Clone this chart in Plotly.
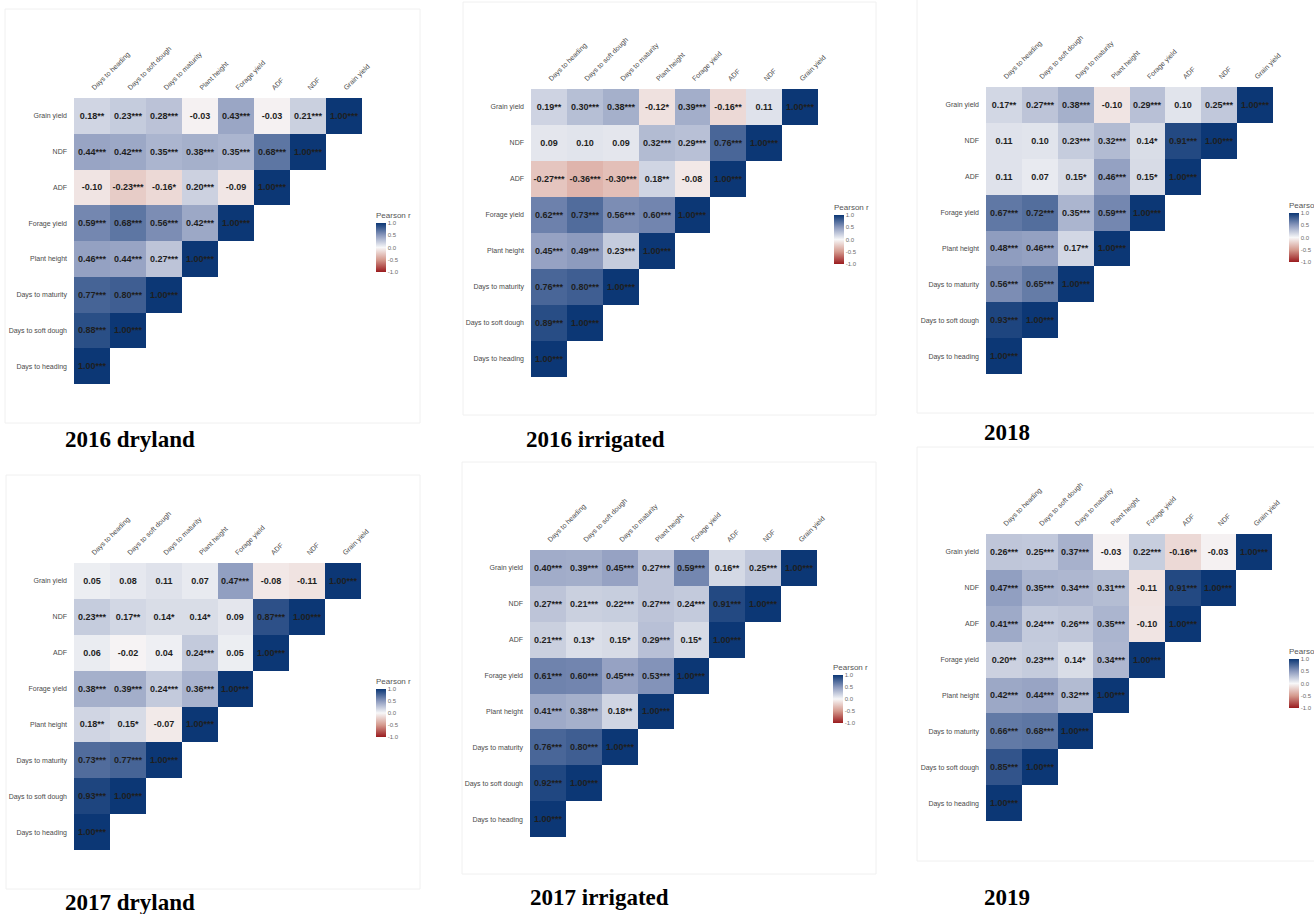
import plotly.graph_objects as go

W, H = 1314, 914

traits = ["Days to heading", "Days to soft dough", "Days to maturity", "Plant height",
          "Forage yield", "ADF", "NDF", "Grain yield"]

# Lower-triangle Pearson r, one row per trait (bottom row first), and significance stars
dryland_2016_r = [
    [1.00],
    [0.88, 1.00],
    [0.77, 0.80, 1.00],
    [0.46, 0.44, 0.27, 1.00],
    [0.59, 0.68, 0.56, 0.42, 1.00],
    [-0.10, -0.23, -0.16, 0.20, -0.09, 1.00],
    [0.44, 0.42, 0.35, 0.38, 0.35, 0.68, 1.00],
    [0.18, 0.23, 0.28, -0.03, 0.43, -0.03, 0.21, 1.00],
]
dryland_2016_sig = [
    [3], [3, 3], [3, 3, 3], [3, 3, 3, 3], [3, 3, 3, 3, 3],
    [0, 3, 1, 3, 0, 3], [3, 3, 3, 3, 3, 3, 3], [2, 3, 3, 0, 3, 0, 3, 3],
]

irrigated_2016_r = [
    [1.00],
    [0.89, 1.00],
    [0.76, 0.80, 1.00],
    [0.45, 0.49, 0.23, 1.00],
    [0.62, 0.73, 0.56, 0.60, 1.00],
    [-0.27, -0.36, -0.30, 0.18, -0.08, 1.00],
    [0.09, 0.10, 0.09, 0.32, 0.29, 0.76, 1.00],
    [0.19, 0.30, 0.38, -0.12, 0.39, -0.16, 0.11, 1.00],
]
irrigated_2016_sig = [
    [3], [3, 3], [3, 3, 3], [3, 3, 3, 3], [3, 3, 3, 3, 3],
    [3, 3, 3, 2, 0, 3], [0, 0, 0, 3, 3, 3, 3], [2, 3, 3, 1, 3, 2, 0, 3],
]

season_2018_r = [
    [1.00],
    [0.93, 1.00],
    [0.56, 0.65, 1.00],
    [0.48, 0.46, 0.17, 1.00],
    [0.67, 0.72, 0.35, 0.59, 1.00],
    [0.11, 0.07, 0.15, 0.46, 0.15, 1.00],
    [0.11, 0.10, 0.23, 0.32, 0.14, 0.91, 1.00],
    [0.17, 0.27, 0.38, -0.10, 0.29, 0.10, 0.25, 1.00],
]
season_2018_sig = [
    [3], [3, 3], [3, 3, 3], [3, 3, 2, 3], [3, 3, 3, 3, 3],
    [0, 0, 1, 3, 1, 3], [0, 0, 3, 3, 1, 3, 3], [2, 3, 3, 0, 3, 0, 3, 3],
]

dryland_2017_r = [
    [1.00],
    [0.93, 1.00],
    [0.73, 0.77, 1.00],
    [0.18, 0.15, -0.07, 1.00],
    [0.38, 0.39, 0.24, 0.36, 1.00],
    [0.06, -0.02, 0.04, 0.24, 0.05, 1.00],
    [0.23, 0.17, 0.14, 0.14, 0.09, 0.87, 1.00],
    [0.05, 0.08, 0.11, 0.07, 0.47, -0.08, -0.11, 1.00],
]
dryland_2017_sig = [
    [3], [3, 3], [3, 3, 3], [2, 1, 0, 3], [3, 3, 3, 3, 3],
    [0, 0, 0, 3, 0, 3], [3, 2, 1, 1, 0, 3, 3], [0, 0, 0, 0, 3, 0, 0, 3],
]

irrigated_2017_r = [
    [1.00],
    [0.92, 1.00],
    [0.76, 0.80, 1.00],
    [0.41, 0.38, 0.18, 1.00],
    [0.61, 0.60, 0.45, 0.53, 1.00],
    [0.21, 0.13, 0.15, 0.29, 0.15, 1.00],
    [0.27, 0.21, 0.22, 0.27, 0.24, 0.91, 1.00],
    [0.40, 0.39, 0.45, 0.27, 0.59, 0.16, 0.25, 1.00],
]
irrigated_2017_sig = [
    [3], [3, 3], [3, 3, 3], [3, 3, 2, 3], [3, 3, 3, 3, 3],
    [3, 1, 1, 3, 1, 3], [3, 3, 3, 3, 3, 3, 3], [3, 3, 3, 3, 3, 2, 3, 3],
]

season_2019_r = [
    [1.00],
    [0.85, 1.00],
    [0.66, 0.68, 1.00],
    [0.42, 0.44, 0.32, 1.00],
    [0.20, 0.23, 0.14, 0.34, 1.00],
    [0.41, 0.24, 0.26, 0.35, -0.10, 1.00],
    [0.47, 0.35, 0.34, 0.31, -0.11, 0.91, 1.00],
    [0.26, 0.25, 0.37, -0.03, 0.22, -0.16, -0.03, 1.00],
]
season_2019_sig = [
    [3], [3, 3], [3, 3, 3], [3, 3, 3, 3], [2, 3, 1, 3, 3],
    [3, 3, 3, 3, 0, 3], [3, 3, 3, 3, 0, 3, 3], [3, 3, 3, 0, 3, 2, 0, 3],
]

panel_titles = ["2016 dryland", "2016 irrigated", "2018",
                "2017 dryland", "2017 irrigated", "2019"]
panel_r = [dryland_2016_r, irrigated_2016_r, season_2018_r,
           dryland_2017_r, irrigated_2017_r, season_2019_r]
panel_sig = [dryland_2016_sig, irrigated_2016_sig, season_2018_sig,
             dryland_2017_sig, irrigated_2017_sig, season_2019_sig]

# Layout geometry in pixels: heatmap box (x0, x1, y0, y1), colorbar (x, ytop, ybottom),
# title centre (x, y), panel frame (x0, y0, x1, y1)
grids = [(74, 362, 98, 384), (531, 818, 89, 377), (986, 1273, 87, 374),
         (74, 361, 563, 850), (530, 817, 550, 837), (986, 1272, 534, 821)]
cbars = [(376, 222, 272), (834, 214, 264), (1289, 212, 262),
         (376, 688, 737), (833, 674, 723), (1289, 658, 708)]
title_pos = [(130, 439), (595, 439), (1007, 433), (130, 902), (599, 897), (1007, 897)]
frames = [(5, 9, 420, 423), (463, 2, 876, 415), (917, -2, 1320, 413),
          (6, 475, 420, 889), (462, 462, 876, 874), (917, 447, 1320, 861)]

colorscale = [
    [0.0, "#9a1b1e"],
    [0.25, "#d59a8e"],
    [0.5, "#f7f7f8"],
    [0.75, "#8b99bd"],
    [1.0, "#0c3775"],
]

TITLE_GAP = 13  # room taken by the colorbar title above the bar


def px(x):
    return x / W


def py(y):
    return 1 - y / H


fig = go.Figure()
n = len(traits)

for k in range(6):
    r_rows = panel_r[k]
    s_rows = panel_sig[k]
    z = [[None] * n for _ in range(n)]
    txt = [[""] * n for _ in range(n)]
    for i in range(n):
        for j in range(i + 1):
            z[i][j] = r_rows[i][j]
            txt[i][j] = f"{r_rows[i][j]:.2f}" + "*" * s_rows[i][j]
    cx, cy0, cy1 = cbars[k]
    suffix = "" if k == 0 else str(k + 1)
    fig.add_trace(go.Heatmap(
        z=z, x=list(range(n)), y=list(range(n)), text=txt,
        texttemplate="%{text}",
        textfont=dict(family="Liberation Sans, Arial", size=9, color="#1e1e1e", weight="bold"),
        colorscale=colorscale, zmin=-1, zmax=1,
        xaxis="x" + suffix, yaxis="y" + suffix,
        hoverongaps=False,
        colorbar=dict(
            x=px(cx), xanchor="left", xpad=0,
            y=py(cy0 - TITLE_GAP), yanchor="top", ypad=0,
            len=cy1 - cy0 + TITLE_GAP, lenmode="pixels", thickness=10, outlinewidth=0,
            tickvals=[1, 0.5, 0, -0.5, -1], ticktext=["1.0", "0.5", "0.0", "-0.5", "-1.0"],
            ticks="", ticklabelposition="outside",
            tickfont=dict(family="Liberation Sans, Arial", size=6, color="#6b6b6b"),
            title=dict(text="Pearson r", side="top",
                       font=dict(family="Liberation Sans, Arial", size=8, color="#555555")),
        ),
    ))
    gx0, gx1, gy0, gy1 = grids[k]
    fig.update_layout(**{
        "xaxis" + suffix: dict(
            domain=[px(gx0), px(gx1)], range=[-0.5, n - 0.5], anchor="y" + suffix,
            side="top", tickvals=list(range(n)), ticktext=traits, tickangle=-45,
            tickfont=dict(family="Liberation Sans, Arial", size=7, color="#4a4a4a"),
            showgrid=False, zeroline=False, showline=False, ticks="",
            ticklabelstandoff=4,
        ),
        "yaxis" + suffix: dict(
            domain=[py(gy1), py(gy0)], range=[-0.5, n - 0.5], anchor="x" + suffix,
            tickvals=list(range(n)), ticktext=traits,
            tickfont=dict(family="Liberation Sans, Arial", size=7, color="#4a4a4a"),
            showgrid=False, zeroline=False, showline=False, ticks="",
            ticklabelstandoff=6,
        ),
    })

shapes = []
for (x0, y0, x1, y1) in frames:
    shapes.append(dict(type="rect", xref="paper", yref="paper",
                       x0=px(x0), x1=px(x1), y0=py(y1), y1=py(y0),
                       line=dict(color="#f0f0f0", width=1), layer="below"))

annotations = []
for t, (tx, ty) in zip(panel_titles, title_pos):
    annotations.append(dict(text=f"<b>{t}</b>", xref="paper", yref="paper",
                            x=px(tx), y=py(ty), xanchor="center", yanchor="middle",
                            showarrow=False,
                            font=dict(family="Liberation Serif, Times New Roman", size=23,
                                      color="#000000")))

fig.update_layout(
    width=W, height=H, margin=dict(l=0, r=0, t=0, b=0, autoexpand=False),
    paper_bgcolor="white", plot_bgcolor="white",
    shapes=shapes, annotations=annotations, showlegend=False,
)

fig.write_html("out.html")
